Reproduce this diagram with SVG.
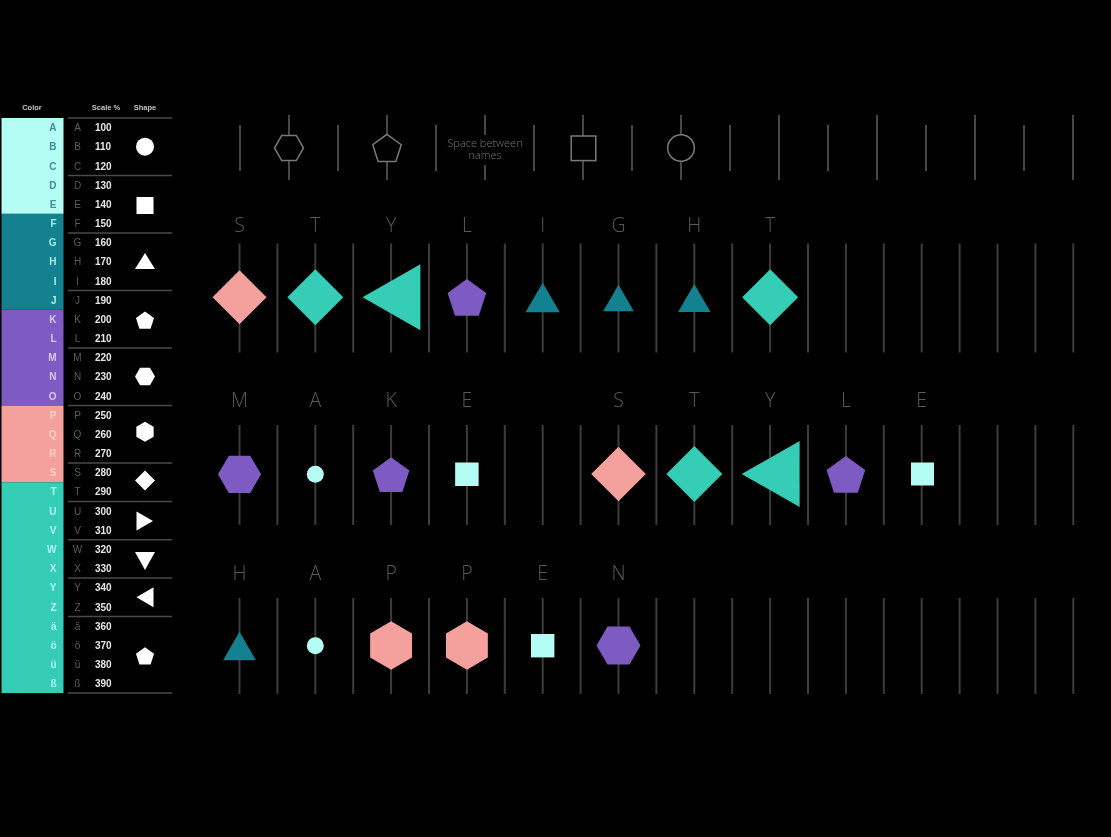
<svg xmlns="http://www.w3.org/2000/svg" xmlns:xlink="http://www.w3.org/1999/xlink" width="1111" height="837" viewBox="0 0 1111 837">
<style>
.lg{font-family:"Liberation Sans",Arial,sans-serif;font-weight:bold;font-size:10px}
.hd{font-family:"Liberation Sans",Arial,sans-serif;font-weight:bold;font-size:7.5px;fill:#c4c4c4;text-anchor:middle}
.gl{fill:#5c5c5c;text-anchor:middle;font-weight:normal}
.num{fill:#e6e6e6}
.c1{text-anchor:end}
.sep{stroke:#4a4a4a;stroke-width:1.5}
.grid{stroke:#3c3c3c;stroke-width:2;fill:none}
.gtop{stroke:#474747;stroke-width:2;fill:none}
.ol{fill:#000;stroke:#7a7a7a;stroke-width:1.5}
.ltr{font-family:"Open Sans","Liberation Sans",sans-serif;font-weight:300;font-size:19.5px;fill:#5a5a5a;text-anchor:middle}
.note{font-family:"Open Sans","Liberation Sans",sans-serif;font-weight:300;font-size:11px;fill:#777;text-anchor:middle}
.pk{fill:#f4a09c}.tq{fill:#36cdb7}.pu{fill:#7e5bc3}.dt{fill:#13818f}.lc{fill:#b4fdf5}.wh{fill:#fff}
</style>
<defs>
<filter id="gs" x="-20%" y="-20%" width="140%" height="140%"><feOffset dx="0" dy="0"/></filter>
<polygon id="pent" vector-effect="non-scaling-stroke" points="0,-1 0.9511,-0.309 0.5878,0.809 -0.5878,0.809 -0.9511,-0.309"/>
<polygon id="hexh" vector-effect="non-scaling-stroke" points="-1,0 -0.5,-0.866 0.5,-0.866 1,0 0.5,0.866 -0.5,0.866"/>
<polygon id="hexv" vector-effect="non-scaling-stroke" points="0,-1 0.866,-0.5 0.866,0.5 0,1 -0.866,0.5 -0.866,-0.5"/>
<polygon id="dia" vector-effect="non-scaling-stroke" points="0,-1 1,0 0,1 -1,0"/>
<polygon id="tri" vector-effect="non-scaling-stroke" points="0,-0.5 0.58,0.5 -0.58,0.5"/>
</defs>
<rect width="1111" height="837" fill="#000"/>

<g id="legend">
  <g id="legend-header" filter="url(#gs)">
    <text class="hd" x="32" y="110">Color</text>
    <text class="hd" x="106" y="110">Scale %</text>
    <text class="hd" x="145" y="110">Shape</text>
  </g>
  <g id="legend-colors">
    <rect x="1.5" y="118" width="62" height="95.85" fill="#b4fdf5"/>
    <rect x="1.5" y="213.85" width="62" height="95.85" fill="#13818f"/>
    <rect x="1.5" y="309.7" width="62" height="95.85" fill="#7e5bc3"/>
    <rect x="1.5" y="405.55" width="62" height="76.68" fill="#f4a09c"/>
    <rect x="1.5" y="482.23" width="62" height="210.87" fill="#36cdb7"/>
  </g>
  <g id="legend-separators" class="sep">
    <line x1="68" y1="118" x2="172" y2="118"/>
    <line x1="68" y1="175.5" x2="172" y2="175.5"/>
    <line x1="68" y1="233" x2="172" y2="233"/>
    <line x1="68" y1="290.5" x2="172" y2="290.5"/>
    <line x1="68" y1="348" x2="172" y2="348"/>
    <line x1="68" y1="405.5" x2="172" y2="405.5"/>
    <line x1="68" y1="463" x2="172" y2="463"/>
    <line x1="68" y1="501.4" x2="172" y2="501.4"/>
    <line x1="68" y1="539.7" x2="172" y2="539.7"/>
    <line x1="68" y1="578" x2="172" y2="578"/>
    <line x1="68" y1="616.4" x2="172" y2="616.4"/>
    <line x1="68" y1="693.1" x2="172" y2="693.1"/>
  </g>
  <g id="legend-letters" class="lg" filter="url(#gs)">
    <g fill="#3b8f96">
      <text class="c1" x="56.5" y="131.2">A</text>
      <text class="c1" x="56.5" y="150.4">B</text>
      <text class="c1" x="56.5" y="169.5">C</text>
      <text class="c1" x="56.5" y="188.7">D</text>
      <text class="c1" x="56.5" y="207.9">E</text>
    </g>
    <g fill="#a6f0ec">
      <text class="c1" x="56.5" y="227.1">F</text>
      <text class="c1" x="56.5" y="246.2">G</text>
      <text class="c1" x="56.5" y="265.4">H</text>
      <text class="c1" x="56.5" y="284.6">I</text>
      <text class="c1" x="56.5" y="303.7">J</text>
    </g>
    <g fill="#d6c8f5">
      <text class="c1" x="56.5" y="322.9">K</text>
      <text class="c1" x="56.5" y="342.1">L</text>
      <text class="c1" x="56.5" y="361.2">M</text>
      <text class="c1" x="56.5" y="380.4">N</text>
      <text class="c1" x="56.5" y="399.6">O</text>
    </g>
    <g fill="#fcd0cc">
      <text class="c1" x="56.5" y="418.8">P</text>
      <text class="c1" x="56.5" y="437.9">Q</text>
      <text class="c1" x="56.5" y="457.1">R</text>
      <text class="c1" x="56.5" y="476.3">S</text>
    </g>
    <g fill="#b2f5ea">
      <text class="c1" x="56.5" y="495.4">T</text>
      <text class="c1" x="56.5" y="514.6">U</text>
      <text class="c1" x="56.5" y="533.8">V</text>
      <text class="c1" x="56.5" y="552.9">W</text>
      <text class="c1" x="56.5" y="572.1">X</text>
      <text class="c1" x="56.5" y="591.3">Y</text>
      <text class="c1" x="56.5" y="610.5">Z</text>
      <text class="c1" x="56.5" y="629.6">ä</text>
      <text class="c1" x="56.5" y="648.8">ö</text>
      <text class="c1" x="56.5" y="668">ü</text>
      <text class="c1" x="56.5" y="687.1">ß</text>
    </g>
  </g>
  <g id="legend-scale" class="lg" filter="url(#gs)">
    <text class="gl" x="77.5" y="131.2">A</text><text class="num" x="95" y="131.2">100</text>
    <text class="gl" x="77.5" y="150.4">B</text><text class="num" x="95" y="150.4">110</text>
    <text class="gl" x="77.5" y="169.5">C</text><text class="num" x="95" y="169.5">120</text>
    <text class="gl" x="77.5" y="188.7">D</text><text class="num" x="95" y="188.7">130</text>
    <text class="gl" x="77.5" y="207.9">E</text><text class="num" x="95" y="207.9">140</text>
    <text class="gl" x="77.5" y="227.1">F</text><text class="num" x="95" y="227.1">150</text>
    <text class="gl" x="77.5" y="246.2">G</text><text class="num" x="95" y="246.2">160</text>
    <text class="gl" x="77.5" y="265.4">H</text><text class="num" x="95" y="265.4">170</text>
    <text class="gl" x="77.5" y="284.6">I</text><text class="num" x="95" y="284.6">180</text>
    <text class="gl" x="77.5" y="303.7">J</text><text class="num" x="95" y="303.7">190</text>
    <text class="gl" x="77.5" y="322.9">K</text><text class="num" x="95" y="322.9">200</text>
    <text class="gl" x="77.5" y="342.1">L</text><text class="num" x="95" y="342.1">210</text>
    <text class="gl" x="77.5" y="361.2">M</text><text class="num" x="95" y="361.2">220</text>
    <text class="gl" x="77.5" y="380.4">N</text><text class="num" x="95" y="380.4">230</text>
    <text class="gl" x="77.5" y="399.6">O</text><text class="num" x="95" y="399.6">240</text>
    <text class="gl" x="77.5" y="418.8">P</text><text class="num" x="95" y="418.8">250</text>
    <text class="gl" x="77.5" y="437.9">Q</text><text class="num" x="95" y="437.9">260</text>
    <text class="gl" x="77.5" y="457.1">R</text><text class="num" x="95" y="457.1">270</text>
    <text class="gl" x="77.5" y="476.3">S</text><text class="num" x="95" y="476.3">280</text>
    <text class="gl" x="77.5" y="495.4">T</text><text class="num" x="95" y="495.4">290</text>
    <text class="gl" x="77.5" y="514.6">U</text><text class="num" x="95" y="514.6">300</text>
    <text class="gl" x="77.5" y="533.8">V</text><text class="num" x="95" y="533.8">310</text>
    <text class="gl" x="77.5" y="552.9">W</text><text class="num" x="95" y="552.9">320</text>
    <text class="gl" x="77.5" y="572.1">X</text><text class="num" x="95" y="572.1">330</text>
    <text class="gl" x="77.5" y="591.3">Y</text><text class="num" x="95" y="591.3">340</text>
    <text class="gl" x="77.5" y="610.5">Z</text><text class="num" x="95" y="610.5">350</text>
    <text class="gl" x="77.5" y="629.6">ä</text><text class="num" x="95" y="629.6">360</text>
    <text class="gl" x="77.5" y="648.8">ö</text><text class="num" x="95" y="648.8">370</text>
    <text class="gl" x="77.5" y="668">ü</text><text class="num" x="95" y="668">380</text>
    <text class="gl" x="77.5" y="687.1">ß</text><text class="num" x="95" y="687.1">390</text>
  </g>
  <g id="legend-shapes" class="wh">
    <circle cx="145" cy="146.7" r="9"/>
    <rect x="136.5" y="197" width="17" height="17"/>
    <polygon points="145,253 155,269 135,269"/>
    <polygon points="145,311.5 154.04,318.06 150.58,328.69 139.42,328.69 135.96,318.06"/>
    <polygon points="135,376.5 140,367.84 150,367.84 155,376.5 150,385.16 140,385.16"/>
    <polygon points="145,421.7 153.66,426.7 153.66,436.7 145,441.7 136.34,436.7 136.34,426.7"/>
    <polygon points="145,470.5 155,480.5 145,490.5 135,480.5"/>
    <polygon points="136.5,511.5 153,521 136.5,530.5"/>
    <polygon points="135,552 155,552 145,570"/>
    <polygon points="136.5,597.3 153.5,587.3 153.5,607.3"/>
    <polygon points="145,647.2 154.04,653.76 150.58,664.39 139.42,664.39 135.96,653.76"/>
  </g>
</g>

<g id="connectors">
  <path id="top-lines" class="gtop" d="M240,125V171M338,125V171M436,125V171M534,125V171M632,125V171M730,125V171M828,125V171M926,125V171M1024,125V171
  M289,115V180M387,115V180M485,115V135M485,165V180M583,115V180M681,115V180M779,115V180M877,115V180M975,115V180M1073,115V180"/>
  <path id="row1-lines" class="grid" d="M239.5,243.5V352.5M277.4,243.5V352.5M315.3,243.5V352.5M353.2,243.5V352.5M391.1,243.5V352.5M429,243.5V352.5M466.9,243.5V352.5M504.8,243.5V352.5M542.7,243.5V352.5M580.6,243.5V352.5M618.5,243.5V352.5M656.4,243.5V352.5M694.3,243.5V352.5M732.2,243.5V352.5M770.1,243.5V352.5M808,243.5V352.5M845.9,243.5V352.5M883.8,243.5V352.5M921.7,243.5V352.5M959.6,243.5V352.5M997.5,243.5V352.5M1035.4,243.5V352.5M1073.3,243.5V352.5"/>
  <path id="row2-lines" class="grid" d="M239.5,425V525M277.4,425V525M315.3,425V525M353.2,425V525M391.1,425V525M429,425V525M466.9,425V525M504.8,425V525M542.7,425V525M580.6,425V525M618.5,425V525M656.4,425V525M694.3,425V525M732.2,425V525M770.1,425V525M808,425V525M845.9,425V525M883.8,425V525M921.7,425V525M959.6,425V525M997.5,425V525M1035.4,425V525M1073.3,425V525"/>
  <path id="row3-lines" class="grid" d="M239.5,598V694M277.4,598V694M315.3,598V694M353.2,598V694M391.1,598V694M429,598V694M466.9,598V694M504.8,598V694M542.7,598V694M580.6,598V694M618.5,598V694M656.4,598V694M694.3,598V694M732.2,598V694M770.1,598V694M808,598V694M845.9,598V694M883.8,598V694M921.7,598V694M959.6,598V694M997.5,598V694M1035.4,598V694M1073.3,598V694"/>
</g>

<g id="key-row">
  <g id="key-hexagon"><use xlink:href="#hexh" class="ol" transform="translate(289,148) scale(14.5)"/></g>
  <g id="key-pentagon"><use xlink:href="#pent" class="ol" transform="translate(387,149.3) scale(15)"/></g>
  <g id="key-space" filter="url(#gs)"><text class="note" x="485" y="147">Space between<tspan x="485" dy="11.7">names</tspan></text></g>
  <g id="key-square"><rect class="ol" x="571.2" y="136" width="24.6" height="24.6"/></g>
  <g id="key-circle"><circle class="ol" cx="681" cy="148" r="13.3"/></g>
</g>

<g id="row-stylight">
  <g id="r1-S"><text class="ltr" filter="url(#gs)" x="239.5" y="231.5">S</text><use xlink:href="#dia" class="pk" transform="translate(239.5,297.3) scale(27)"/></g>
  <g id="r1-T"><text class="ltr" filter="url(#gs)" x="315.3" y="231.5">T</text><use xlink:href="#dia" class="tq" transform="translate(315.3,297.3) scale(28)"/></g>
  <g id="r1-Y"><text class="ltr" filter="url(#gs)" x="391.1" y="231.5">Y</text><polygon class="tq" points="362.5,297.3 420.4,264.3 420.4,330.3"/></g>
  <g id="r1-L"><text class="ltr" filter="url(#gs)" x="466.9" y="231.5">L</text><use xlink:href="#pent" class="pu" transform="translate(466.9,299.3) scale(20.3)"/></g>
  <g id="r1-I"><text class="ltr" filter="url(#gs)" x="542.7" y="231.5">I</text><use xlink:href="#tri" class="dt" transform="translate(542.7,297.5) scale(29.6)"/></g>
  <g id="r1-G"><text class="ltr" filter="url(#gs)" x="618.5" y="231.5">G</text><use xlink:href="#tri" class="dt" transform="translate(618.5,298) scale(26.5)"/></g>
  <g id="r1-H"><text class="ltr" filter="url(#gs)" x="694.3" y="231.5">H</text><use xlink:href="#tri" class="dt" transform="translate(694.3,298) scale(28)"/></g>
  <g id="r1-T2"><text class="ltr" filter="url(#gs)" x="770.1" y="231.5">T</text><use xlink:href="#dia" class="tq" transform="translate(770.1,297.3) scale(28)"/></g>
</g>

<g id="row-make-style">
  <g id="r2-M"><text class="ltr" filter="url(#gs)" x="239.5" y="407">M</text><use xlink:href="#hexh" class="pu" transform="translate(239.5,474.3) scale(21.5)"/></g>
  <g id="r2-A"><text class="ltr" filter="url(#gs)" x="315.3" y="407">A</text><circle class="lc" cx="315.3" cy="474.3" r="8.5"/></g>
  <g id="r2-K"><text class="ltr" filter="url(#gs)" x="391.1" y="407">K</text><use xlink:href="#pent" class="pu" transform="translate(391.1,476.5) scale(19.2)"/></g>
  <g id="r2-E"><text class="ltr" filter="url(#gs)" x="466.9" y="407">E</text><rect class="lc" x="455.15" y="462.5" width="23.5" height="23.5"/></g>
  <g id="r2-S"><text class="ltr" filter="url(#gs)" x="618.5" y="407">S</text><use xlink:href="#dia" class="pk" transform="translate(618.5,474) scale(27.3)"/></g>
  <g id="r2-T"><text class="ltr" filter="url(#gs)" x="694.3" y="407">T</text><use xlink:href="#dia" class="tq" transform="translate(694.3,474) scale(28)"/></g>
  <g id="r2-Y"><text class="ltr" filter="url(#gs)" x="770.1" y="407">Y</text><polygon class="tq" points="741.7,474 799.6,441 799.6,507"/></g>
  <g id="r2-L"><text class="ltr" filter="url(#gs)" x="845.9" y="407">L</text><use xlink:href="#pent" class="pu" transform="translate(845.9,476.3) scale(20.3)"/></g>
  <g id="r2-E2"><text class="ltr" filter="url(#gs)" x="921.7" y="407">E</text><rect class="lc" x="911" y="462.5" width="23" height="23"/></g>
</g>

<g id="row-happen">
  <g id="r3-H"><text class="ltr" filter="url(#gs)" x="239.5" y="579.5">H</text><use xlink:href="#tri" class="dt" transform="translate(239.5,646) scale(28.3)"/></g>
  <g id="r3-A"><text class="ltr" filter="url(#gs)" x="315.3" y="579.5">A</text><circle class="lc" cx="315.3" cy="645.7" r="8.5"/></g>
  <g id="r3-P"><text class="ltr" filter="url(#gs)" x="391.1" y="579.5">P</text><use xlink:href="#hexv" class="pk" transform="translate(391.1,645.5) scale(24.2)"/></g>
  <g id="r3-P2"><text class="ltr" filter="url(#gs)" x="466.9" y="579.5">P</text><use xlink:href="#hexv" class="pk" transform="translate(466.9,645.5) scale(24.2)"/></g>
  <g id="r3-E"><text class="ltr" filter="url(#gs)" x="542.7" y="579.5">E</text><rect class="lc" x="531" y="634" width="23.4" height="23.4"/></g>
  <g id="r3-N"><text class="ltr" filter="url(#gs)" x="618.5" y="579.5">N</text><use xlink:href="#hexh" class="pu" transform="translate(618.5,645.5) scale(22)"/></g>
</g>
</svg>
